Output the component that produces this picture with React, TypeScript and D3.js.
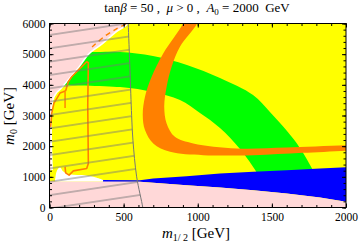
import { useEffect, useRef } from "react";
import * as d3 from "d3";

type Pt = [number, number]; // [m12, m0] in GeV

const X_TICKS = [0, 500, 1000, 1500, 2000];
const Y_TICKS = [0, 1000, 2000, 3000, 4000, 5000, 6000];

// green band (relic density region), upper/right edge and lower/left edge
const GREEN_OUTER: Pt[] = [
  [-60, 5070], [273, 5069], [476, 5069], [698, 4939], [927, 4645], [1150, 4221],
  [1373, 3666], [1487, 3111], [1602, 2491], [1690, 1936], [1777, 1218], [1825, 728],
];
const GREEN_INNER: Pt[] = [
  [-60, 3992], [476, 3927], [698, 3764], [880, 3503], [1015, 3079], [1150, 2590],
  [1285, 1904], [1400, 1120], [1440, 728],
];

// orange band
const ORANGE_OUTER: Pt[] = [
  [935, 6450], [902, 6006], [768, 5027], [689, 4263], [644, 3610], [629, 3013],
  [644, 2524], [700, 2089], [813, 1815], [1037, 1707], [1375, 1707], [1710, 1782],
  [2100, 1880],
];
const ORANGE_INNER: Pt[] = [
  [1030, 6450], [997, 6006], [880, 5242], [824, 4589], [790, 3936], [774, 3284],
  [790, 2742], [846, 2304], [970, 2089], [1263, 1926], [1600, 1958], [2100, 2045],
];

// blue strip
const BLUE_TOP: Pt[] = [
  [360, 900], [610, 891], [700, 947], [925, 1022], [1150, 1110], [1375, 1162],
  [1600, 1217], [1825, 1273], [2100, 1330],
];
const BLUE_BOTTOM: Pt[] = [
  [360, 830], [610, 836], [925, 728], [1150, 653], [1375, 565], [1600, 457],
  [1825, 326], [2005, 183], [2100, 100],
];

// pink regions
const PINK_LOW_TOP: Pt[] = [
  [-60, 860], [360, 845], [610, 836], [925, 728], [1150, 653], [1375, 565],
  [1600, 457], [1825, 326], [2005, 183], [2100, 100],
];
const PINK_EDGE: Pt[] = [
  [535, 6300], [521, 6006], [442, 5732], [352, 5353], [262, 5027], [194, 4589],
  [127, 4210], [71, 3884], [44, 3762], [17, 3501], [13, 1217],
];
const WHITE_BLOB: Pt[] = [
  [37, 850], [37, 857], [51, 1217], [71, 1315], [91, 1185], [138, 1087],
  [239, 1054], [307, 989], [361, 891], [361, 850],
];

// thin orange contours
const ORANGE_LINE: Pt[] = [
  [8, 2631], [15, 3068], [30, 3404], [55, 3600], [71, 3731], [93, 3773], [109, 3806],
  [127, 4100], [150, 4263], [194, 4481], [228, 4644], [251, 4752], [262, 4720],
  [258, 3339], [262, 1436], [251, 1273], [161, 1195], [132, 1054], [109, 1129], [105, 1325],
];
const ORANGE_BRANCH: Pt[] = [[105, 3773], [105, 3241]];
const ORANGE_DASH: Pt[] = [[287, 5232], [374, 5590], [449, 5818], [516, 5983]];

// hatched region boundary
const HATCH_EDGE: Pt[] = [
  [529, 6300], [531, 6006], [543, 4472], [554, 3003], [563, 2187], [588, 999], [629, 0], [633, -200],
];

const SERIF = "'Liberation Serif', 'Times New Roman', serif";

export default function App() {
  const gRef = useRef<SVGGElement>(null);

  useEffect(() => {
    if (!gRef.current) return;
    const root = d3.select(gRef.current);
    root.selectAll("*").remove();

    const x = d3.scaleLinear().domain([0, 2000]).range([49.5, 346]);
    const y = d3.scaleLinear().domain([0, 6000]).range([207.5, 23.5]);

    const lin = d3.line<Pt>().x((d) => x(d[0])).y((d) => y(d[1]));
    const smooth = d3.line<Pt>().x((d) => x(d[0])).y((d) => y(d[1])).curve(d3.curveCatmullRom.alpha(0.5));
    const band = (a: Pt[], b: Pt[], gen = smooth) =>
      gen(a)! + "L" + gen([...b].reverse())!.slice(1) + "Z";

    const defs = root.append("defs");
    defs.append("clipPath").attr("id", "plotclip").append("rect")
      .attr("x", x(0)).attr("y", y(6000)).attr("width", x(2000) - x(0)).attr("height", y(0) - y(6000));
    const pat = defs.append("pattern").attr("id", "hatch")
      .attr("patternUnits", "userSpaceOnUse").attr("width", 20).attr("height", 13.2)
      .attr("patternTransform", `translate(${x(0)},35) rotate(-8.5) translate(0,-6.6)`);
    pat.append("line").attr("x1", 0).attr("x2", 20).attr("y1", 6.6).attr("y2", 6.6)
      .attr("stroke", "#777").attr("stroke-width", 0.9);

    const g = root.append("g").attr("clip-path", "url(#plotclip)");
    g.append("rect").attr("x", x(0)).attr("y", y(6000))
      .attr("width", x(2000) - x(0)).attr("height", y(0) - y(6000)).attr("fill", "#ffff00");

    g.append("path").attr("d", band(GREEN_OUTER, GREEN_INNER)).attr("fill", "#00ff00");
    g.append("path").attr("d", band(ORANGE_OUTER, ORANGE_INNER)).attr("fill", "#ff8000");
    g.append("path").attr("d", band(BLUE_TOP, BLUE_BOTTOM, lin)).attr("fill", "#0000ff");

    // lower pink
    g.append("path")
      .attr("d", lin(PINK_LOW_TOP)! + `L${x(2100)},${y(-300)}L${x(-60)},${y(-300)}Z`)
      .attr("fill", "#ffd8d8");
    g.append("path").attr("d", smooth(WHITE_BLOB)! + "Z").attr("fill", "#ffffff");

    // upper-left pink with thin white gap
    g.append("path").attr("d", smooth(PINK_EDGE)!).attr("fill", "none")
      .attr("stroke", "#ffffff").attr("stroke-width", 3);
    g.append("path")
      .attr("d", smooth(PINK_EDGE)! + `L${x(-60)},${y(1217)}L${x(-60)},${y(6300)}Z`)
      .attr("fill", "#ffd8d8");

    // thin orange contours
    g.append("path").attr("d", lin(ORANGE_LINE)!).attr("fill", "none")
      .attr("stroke", "#ff8000").attr("stroke-width", 1.6).attr("stroke-linejoin", "round");
    g.append("path").attr("d", lin(ORANGE_BRANCH)!).attr("fill", "none")
      .attr("stroke", "#ff8000").attr("stroke-width", 1.4);
    g.append("path").attr("d", smooth(ORANGE_DASH)!).attr("fill", "none")
      .attr("stroke", "#ff8000").attr("stroke-width", 1.4).attr("stroke-dasharray", "5,4");

    // hatched region
    g.append("path")
      .attr("d", smooth(HATCH_EDGE)! + `L${x(-60)},${y(-200)}L${x(-60)},${y(6300)}Z`)
      .attr("fill", "url(#hatch)");
    g.append("path").attr("d", smooth(HATCH_EDGE)!).attr("fill", "none")
      .attr("stroke", "#777").attr("stroke-width", 1);

    // frame ticks
    const axisStyle = (sel: d3.Selection<SVGGElement, unknown, null, undefined>) => {
      sel.select(".domain").remove();
      sel.selectAll("line").attr("stroke", "#000").attr("stroke-width", 1);
      sel.selectAll("text").attr("fill", "#000").style("font-family", SERIF).style("font-size", "11.5px");
    };
    const none = () => "";

    root.append("g").attr("transform", `translate(0,${y(0)})`)
      .call(d3.axisBottom(x).tickValues(X_TICKS).tickSize(-4).tickPadding(5).tickFormat(d3.format("d")))
      .call(axisStyle);
    root.append("g").attr("transform", `translate(0,${y(0)})`)
      .call(d3.axisBottom(x).tickValues(x.ticks(20)).tickSize(-2.5).tickFormat(none)).call(axisStyle);
    root.append("g").attr("transform", `translate(0,${y(6000)})`)
      .call(d3.axisTop(x).tickValues(X_TICKS).tickSize(-4).tickFormat(none)).call(axisStyle);
    root.append("g").attr("transform", `translate(0,${y(6000)})`)
      .call(d3.axisTop(x).tickValues(x.ticks(20)).tickSize(-2.5).tickFormat(none)).call(axisStyle);

    root.append("g").attr("transform", `translate(${x(0)},0)`)
      .call(d3.axisLeft(y).tickValues(Y_TICKS).tickSize(-4).tickPadding(4).tickFormat(d3.format("d")))
      .call(axisStyle);
    root.append("g").attr("transform", `translate(${x(0)},0)`)
      .call(d3.axisLeft(y).tickValues(y.ticks(30)).tickSize(-2.5).tickFormat(none)).call(axisStyle);
    root.append("g").attr("transform", `translate(${x(2000)},0)`)
      .call(d3.axisRight(y).tickValues(Y_TICKS).tickSize(-4).tickFormat(none)).call(axisStyle);
    root.append("g").attr("transform", `translate(${x(2000)},0)`)
      .call(d3.axisRight(y).tickValues(y.ticks(30)).tickSize(-2.5).tickFormat(none)).call(axisStyle);

    root.append("rect").attr("x", x(0)).attr("y", y(6000))
      .attr("width", x(2000) - x(0)).attr("height", y(0) - y(6000))
      .attr("fill", "none").attr("stroke", "#000").attr("stroke-width", 1);
  }, []);

  return (
    <svg width={360} height={248} style={{ position: "absolute", left: 0, top: 0, background: "#fff" }}>
      <g ref={gRef} />
      <text x={197} y={12} textAnchor="middle" fontFamily={SERIF} fontSize={13} style={{ whiteSpace: "pre" }}>
        {"tan"}<tspan fontStyle="italic">β</tspan>{" = 50 ,  "}<tspan fontStyle="italic">μ</tspan>
        {" > 0 ,  "}<tspan fontStyle="italic">A</tspan><tspan fontSize={9} dy={2.5}>0</tspan>
        <tspan dy={-2.5}>{" = 2000  GeV"}</tspan>
      </text>
      <text transform="translate(14,116) rotate(-90)" textAnchor="middle" fontFamily={SERIF} fontSize={15} style={{ whiteSpace: "pre" }}>
        <tspan fontStyle="italic">m</tspan><tspan fontSize={10} dy={3}>0</tspan><tspan dy={-3}>{" [GeV]"}</tspan>
      </text>
      <text x={196} y={238} textAnchor="middle" fontFamily={SERIF} fontSize={15} style={{ whiteSpace: "pre" }}>
        <tspan fontStyle="italic">m</tspan><tspan fontSize={10} dy={3}>{"1/ 2"}</tspan><tspan dy={-3}>{" [GeV]"}</tspan>
      </text>
    </svg>
  );
}
